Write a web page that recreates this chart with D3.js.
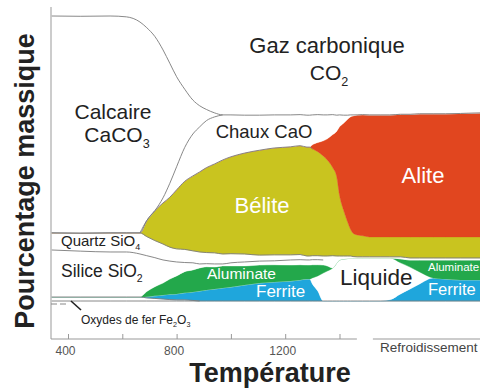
<!DOCTYPE html>
<html><head><meta charset="utf-8">
<script src="https://cdn.jsdelivr.net/npm/d3@7"></script>
<style>
html,body{margin:0;padding:0;background:#fff;}
svg{display:block;font-family:"Liberation Sans",Arial,Helvetica,sans-serif;}
</style>
</head><body>
<svg id="chart" width="480" height="389"></svg>
<script>
// ---- DATA (position along the kiln, in °C-equivalent; the last part is the cooling zone) ----
const temperature = [340,445,555,615,665, 690,720,750,775,800, 830,860,885,910,940, 970,1000,1050,1105,1160, 1220,1255,1280,1290,1300, 1320,1340,1355,1375,1390, 1400,1415,1430,1440,1450, 1465,1485,1510,1550,1585, 1625,1660,1695,1745,1790, 1845,1920];
// mass percentages of each constituent (stacked bottom -> top)
const fe2o3     = [1.4,1.4,1.4,1.4,1.4, 1.1,0.9,0.7,0.5,0.4, 0.4,0.2,0,0,0, 0,0,0,0,0, 0,0,0,0,0, 0,0,0,0,0, 0,0,0,0,0, 0,0,0,0,0, 0,0,0,0,0, 0,0];
const ferrite   = [0,0,0,0,0, 0.4,0.9,1.4,1.9,2.1, 2.5,3.0,3.5,3.9,4.2, 4.6,4.9,5.6,6.3,6.7, 7.0,7.4,7.7,7.7,6.0, 3.5,0,0,0,0, 0,0,0,0,0, 0,0,0,0,0.4, 2.5,4.2,6.0,8.1,7.7, 7.4,7.4];
const liquide   = [0,0,0,0,0, 0,0,0,0,0, 0,0,0,0,0, 0,0,0,0,0, 0,0,0,0,2.1, 5.3,9.8,10.5,11.6,13.3, 14.4,14.7,14.9,15.1,15.1, 15.1,15.1,15.1,15.1,14.7, 10.9,7.7,4.2,0,0, 0,0];
const aluminate = [0,0,0,0,0, 1.8,3.2,4.2,5.3,6.3, 7.4,7.7,8.1,8.1,7.7, 7.7,7.4,6.7,6.3,6.0, 5.6,5.3,4.9,4.9,4.6, 3.9,2.8,1.8,0,0, 0,0,0,0,0, 0,0,0,0,0, 1.4,2.5,4.2,6.3,6.7, 7.0,7.0];
const silice    = [16.5,16.1,15.8,15.8,15.1, 12.6,10.2,8.1,6.3,4.9, 3.2,2.5,1.4,1.1,1.1, 0.7,1.1,1.4,1.4,1.4, 1.8,1.8,1.8,1.8,1.8, 1.8,1.8,2.1,3.2,1.4, 0.5,0.4,0.2,0,0, 0,0,0,0,0, 0,0,0,0,0, 0,0];
const quartz    = [6.0,6.3,6.7,6.7,7.4, 6.7,6.0,5.6,4.9,4.6, 4.6,4.2,4.2,3.9,3.9, 3.5,3.2,2.8,2.1,2.1, 1.8,1.8,1.4,1.4,1.4, 1.4,1.4,1.4,1.1,1.1, 0.9,0.7,0.7,0.7,0.5, 0.4,0.4,0.4,0.4,0.4, 0.7,0.7,0.7,0.7,0.7, 0.7,0.7];
const belite    = [0,0,0,0,0, 5.6,10.5,14.4,17.5,20.7, 23.9,26.3,28.1,29.8,31.2, 33.0,34.0,35.4,36.8,37.5, 37.9,38.2,38.2,38.2,37.5, 36.5,35.1,33.7,30.9,27.7, 21.4,16.1,11.9,9.5,8.2, 7.7,7.4,7.0,7.0,7.0, 7.0,7.4,7.4,7.4,7.4, 7.4,7.4];
const alite     = [0,0,0,0,0, 0,0,0,0,0, 0,0,0,0,0, 0,0,0,0,0, 0,0,0,0,1.4, 3.2,5.3,7.4,11.6,16.1, 23.9,30.5,36.1,39.3,41.1, 42.1,42.5,42.8,42.8,42.8, 43.0,43.0,43.2,43.2,43.2, 43.3,43.5];
const chaux     = [0,0,0,0,0, 0,0,1.8,4.9,8.1, 11.9,14.7,15.8,16.5,16.5, 15.8,14.7,13.3,12.3,11.6, 11.2,10.9,11.2,11.2,10.5, 9.8,9.1,8.4,7.0,5.6, 4.2,2.8,1.4,0.7,0.4, 0,0,0,0,0, 0,0,0,0,0, 0,0];
const calcaire  = [76.1,76.1,76.1,75.8,74.0, 67.7,61.1,51.9,42.1,31.6, 20.4,11.9,7.4,3.9,1.4, 0,0,0,0,0, 0,0,0,0,0, 0,0,0,0,0, 0,0,0,0,0, 0,0,0,0,0, 0,0,0,0,0, 0,0];

const layerKeys = ["fe2o3","ferrite","liquide","aluminate","silice","quartz","belite","alite","chaux","calcaire"];
const layerColors = ["#ffffff","#1fa6dc","#ffffff","#23a84b","#ffffff","#ffffff","#c9c41f","#e1461f","#ffffff","#ffffff"];
const tickValues = [400,600,800,1000,1200,1400];
const tickLabels = [400,800,1200];

// ---- build ----
const series = {fe2o3,ferrite,liquide,aluminate,silice,quartz,belite,alite,chaux,calcaire};
const rows = temperature.map((t,i)=>{const r={t}; layerKeys.forEach(k=>r[k]=series[k][i]); return r;});

const svg = d3.select("#chart");
const W = 480, H = 389;
const x = d3.scaleLinear().domain([400,1400]).range([68,339.5]);
const y = d3.scaleLinear().domain([0,100]).range([301,16]);
const plotLeft = 51, axisY = 339;

const stacked = d3.stack().keys(layerKeys)(rows);

svg.append("defs").append("clipPath").attr("id","plotclip")
  .append("rect").attr("x",plotLeft).attr("y",0).attr("width",W-plotLeft).attr("height",H);

const plot = svg.append("g").attr("clip-path","url(#plotclip)");
const curve = d3.curveMonotoneX;
const area = d3.area().x(d=>x(d.data.t)).y0(d=>y(d[0])).y1(d=>y(d[1])).curve(curve);

plot.selectAll("path.layer").data(stacked).join("path")
  .attr("class","layer")
  .attr("d",area)
  .attr("fill",(d,i)=>layerColors[i])
  .attr("stroke",(d,i)=>layerColors[i])
  .attr("stroke-width",0.4);

// boundary lines
function boundary(key, which, tMin, tMax){
  const s = stacked[layerKeys.indexOf(key)];
  const pts = s.filter(d=>d.data.t>=tMin && d.data.t<=tMax);
  const line = d3.line().x(d=>x(d.data.t)).y(d=>y(d[which])).curve(curve);
  plot.append("path").attr("d",line(pts)).attr("fill","none")
    .attr("stroke","#7a7a7a").attr("stroke-width",0.9);
}
boundary("calcaire",1,0,3000);     // stack top
boundary("calcaire",0,0,970);      // calcaire / chaux
boundary("belite",1,665,1300);     // belite / chaux
boundary("quartz",1,0,3000);       // quartz top
boundary("quartz",0,0,1340);       // quartz / silice
boundary("fe2o3",1,0,885);         // Fe2O3 band
boundary("fe2o3",0,0,3000);        // bottom

// axes
const axisBreak = [1464,1523];
svg.append("line").attr("x1",plotLeft).attr("x2",plotLeft).attr("y1",7).attr("y2",axisY)
  .attr("stroke","#999").attr("stroke-width",1);
svg.append("line").attr("x1",plotLeft).attr("x2",x(axisBreak[0])).attr("y1",axisY).attr("y2",axisY)
  .attr("stroke","#999").attr("stroke-width",1);
svg.append("line").attr("x1",x(axisBreak[1])).attr("x2",W).attr("y1",axisY).attr("y2",axisY)
  .attr("stroke","#999").attr("stroke-width",1);

const xAxis = d3.axisBottom(x).tickValues(tickValues).tickSizeInner(-5).tickSizeOuter(0)
  .tickFormat(d=>tickLabels.includes(d)? String(d) : "");
const gx = svg.append("g").attr("transform",`translate(0,${axisY})`).call(xAxis);
gx.select(".domain").remove();
gx.selectAll(".tick line").attr("stroke","#999");
gx.selectAll(".tick text").attr("y",7).attr("dx",-3).attr("fill","#555")
  .style("font-size","12px").style("font-family","'Liberation Sans',Arial,sans-serif");

svg.append("text").attr("x",380).attr("y",352).attr("fill","#444")
  .style("font-size","13.5px").text("Refroidissement");

// axis titles
svg.append("text").attr("transform","translate(34,181) rotate(-90)").attr("text-anchor","middle")
  .attr("fill","#222").style("font-size","27px").style("font-weight","bold").text("Pourcentage massique");
svg.append("text").attr("x",270).attr("y",382).attr("text-anchor","middle")
  .attr("fill","#222").style("font-size","27px").style("font-weight","bold").text("Température");

// labels
function label(xp, yp, parts, size, color, anchor){
  const t = svg.append("text").attr("x",xp).attr("y",yp).attr("fill",color)
    .attr("text-anchor",anchor||"start").style("font-size",size+"px");
  let shifted = false;
  parts.forEach(p=>{
    if(p.sub){
      t.append("tspan").attr("dy",size*0.28).style("font-size",(size*0.6)+"px").text(p.s);
      shifted = true;
    } else {
      const ts = t.append("tspan").text(p.s);
      if(shifted){ ts.attr("dy",-size*0.28); shifted=false; }
    }
  });
  return t;
}
const dark = "#222";
label(327,53,[{s:"Gaz carbonique"}],22,dark,"middle");
label(329,80,[{s:"CO"},{s:"2",sub:true}],21,dark,"middle");
label(113,119,[{s:"Calcaire"}],21,dark,"middle");
label(117,142,[{s:"CaCO"},{s:"3",sub:true}],21,dark,"middle");
label(264,138,[{s:"Chaux CaO"}],18.5,dark,"middle");
label(262,213,[{s:"Bélite"}],22,"#fff","middle");
label(423,183,[{s:"Alite"}],22,"#fff","middle");
label(61,246,[{s:"Quartz SiO"},{s:"4",sub:true}],15,dark,"start");
label(61,277,[{s:"Silice SiO"},{s:"2",sub:true}],17.5,dark,"start");
label(207,279,[{s:"Aluminate"}],15.5,"#fff","start");
label(256,297,[{s:"Ferrite"}],17,"#fff","start");
label(340,285,[{s:"Liquide"}],22.5,dark,"start");
label(428,271,[{s:"Aluminate"}],11.5,"#fff","start");
label(428,295,[{s:"Ferrite"}],16.5,"#fff","start");
label(81,324,[{s:"Oxydes de fer Fe"},{s:"2",sub:true},{s:"O"},{s:"3",sub:true}],12,dark,"start");

// pointer to the iron oxide band
svg.append("line").attr("x1",plotLeft).attr("x2",68).attr("y1",304).attr("y2",304)
  .attr("stroke","#888").attr("stroke-width",1).attr("stroke-dasharray","6,3");
svg.append("line").attr("x1",71).attr("y1",301).attr("x2",81).attr("y2",310)
  .attr("stroke","#222").attr("stroke-width",1.6);
</script>
</body></html>
